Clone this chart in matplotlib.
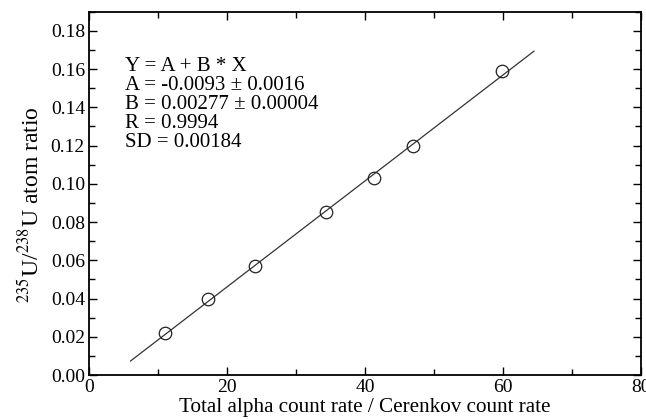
import numpy as np
import matplotlib.pyplot as plt
from matplotlib.ticker import MultipleLocator

plt.rcParams['font.family'] = ['Liberation Serif', 'DejaVu Serif']
plt.rcParams['mathtext.fontset'] = 'stix'

# measured points
count_ratio = [11.0, 17.3, 24.0, 34.3, 41.3, 46.9, 59.8]
atom_ratio = [0.022, 0.040, 0.057, 0.085, 0.103, 0.120, 0.159]

# linear fit parameters
A = -0.0093
B = 0.00277
fit_x = [6.0, 64.5]

fig, ax = plt.subplots(figsize=(6.46, 4.19), dpi=100)
fig.subplots_adjust(left=0.138, right=0.992, top=0.972, bottom=0.105)

fx = np.array(fit_x)
ax.plot(fx, A + B * fx, color='#333333', lw=0.9)
ax.plot(count_ratio, atom_ratio, 'o', mfc='none', mec='#222222', ms=9, mew=0.9)

ax.set_xlim(0, 80)
ax.set_ylim(0, 0.19)
ax.xaxis.set_major_locator(MultipleLocator(20))
ax.xaxis.set_minor_locator(MultipleLocator(10))
ax.yaxis.set_major_locator(MultipleLocator(0.02))
ax.yaxis.set_minor_locator(MultipleLocator(0.01))
ax.yaxis.set_major_formatter(plt.FuncFormatter(lambda v, p: f'{v:.2f}'))
ax.tick_params(which='both', direction='in', top=True, right=True, labelsize=14)
ax.tick_params(which='major', length=6, width=1, pad=3)
ax.tick_params(which='minor', length=4, width=1)
for s in ax.spines.values():
    s.set_linewidth(1.3)

ax.set_xlabel('Total alpha count rate / Cerenkov count rate', fontsize=15.2, labelpad=1.5)
ax.set_ylabel(r'$^{235}$U/$^{238}$U atom ratio', fontsize=17)
ax.yaxis.set_label_coords(-0.083, 0.468)

lines = ['Y = A + B * X',
         'A = -0.0093 ± 0.0016',
         'B = 0.00277 ± 0.00004',
         'R = 0.9994',
         'SD = 0.00184']
for i, t in enumerate(lines):
    ax.text(5.2, 0.1615 - i * 0.00995, t, fontsize=15, va='center', ha='left')

fig.savefig('out.png', dpi=100)
